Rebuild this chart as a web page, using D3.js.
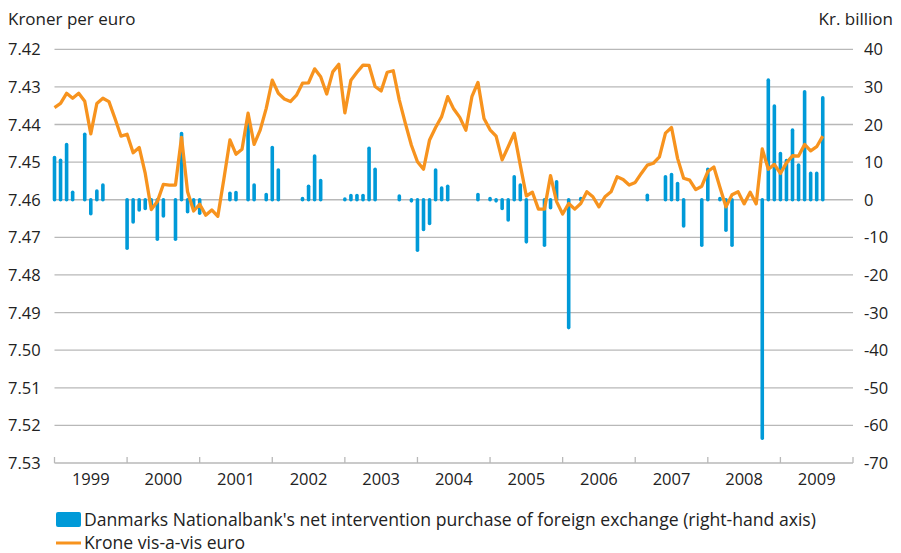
<!DOCTYPE html>
<html>
<head>
<meta charset="utf-8">
<script src="https://cdn.jsdelivr.net/npm/d3@7"></script>
<style>
  body { margin: 0; background: #fff; }
  text { font-family: "Open Sans", "Noto Sans", sans-serif; fill: #222; }
</style>
</head>
<body>
<div id="chart"></div>
<script>
// monthly series, Jan 1999 .. Aug 2009
var years = ["1999", "2000", "2001", "2002", "2003", "2004", "2005", "2006", "2007", "2008", "2009"];
var leftTicks = [7.42, 7.43, 7.44, 7.45, 7.46, 7.47, 7.48, 7.49, 7.50, 7.51, 7.52, 7.53];
var rightTicks = [40, 30, 20, 10, 0, -10, -20, -30, -40, -50, -60, -70];

// net intervention purchase, kr. billion (right axis)
var intervention = [
    11.2, 10.5, 14.7, 2.0, 0, 17.4, -3.7, 2.3, 3.9, 0, 0, 0,
    -12.9, -5.9, -2.7, -2.3, -1.5, -10.5, -4.3, 0, -10.5, 17.6, -3.2, -1.9,
    -3.6, 0, 0, 0, 0, 1.7, 1.9, 0, 20.0, 3.9, 0, 1.4,
    13.9, 7.9, 0, 0, 0, 0.3, 3.6, 11.6, 5.1, 0, 0, 0,
    0.2, 1.1, 1.1, 1.1, 13.7, 8.1, 0, 0, 0, 1.0, 0, -0.3,
    -13.4, -7.9, -6.3, 7.9, 3.1, 3.6, 0, 0, 0, 0, 1.4, 0,
    0.3, -0.3, -2.3, -5.4, 6.1, 3.9, -11.2, 0, 0, -12.1, -2.1, 4.8,
    0, -34.0, 0, 0.3, 0, 0, 0, 0, 0, 0, 0, 0,
    0, 0, 1.2, 0, 0, 6.1, 6.7, 4.3, -7.0, 0, 0, -12.1,
    8.1, 0, 0.3, -8.1, -12.1, 0, 0, 0, 0, -63.4, 31.8, 24.9,
    12.3, 10.4, 18.5, 9.2, 28.7, 7.0, 7.0, 27.1
];

// krone vis-a-vis euro (left axis)
var krone = [
    7.4355, 7.4344, 7.4317, 7.4330, 7.4317, 7.4338, 7.4425, 7.4344, 7.4330, 7.4339, 7.4384, 7.4431,
    7.4426, 7.4475, 7.4461, 7.4530, 7.4626, 7.4605, 7.4559, 7.4561, 7.4561, 7.4434, 7.4579, 7.4630,
    7.4612, 7.4641, 7.4627, 7.4644, 7.4545, 7.4441, 7.4479, 7.4466, 7.4370, 7.4453, 7.4415, 7.4357,
    7.4282, 7.4317, 7.4332, 7.4339, 7.4322, 7.4290, 7.4289, 7.4252, 7.4273, 7.4319, 7.4260, 7.4240,
    7.4369, 7.4282, 7.4261, 7.4242, 7.4243, 7.4299, 7.4311, 7.4261, 7.4257, 7.4335, 7.4397, 7.4455,
    7.4499, 7.4519, 7.4441, 7.4408, 7.4379, 7.4326, 7.4359, 7.4381, 7.4415, 7.4326, 7.4288, 7.4384,
    7.4414, 7.4431, 7.4494, 7.4459, 7.4423, 7.4508, 7.4590, 7.4580, 7.4625, 7.4625, 7.4536, 7.4605,
    7.4638, 7.4610, 7.4625, 7.4610, 7.4579, 7.4592, 7.4619, 7.4592, 7.4579, 7.4539, 7.4546, 7.4561,
    7.4554, 7.4530, 7.4508, 7.4503, 7.4486, 7.4423, 7.4408, 7.4490, 7.4543, 7.4548, 7.4573, 7.4564,
    7.4525, 7.4513, 7.4567, 7.4619, 7.4587, 7.4579, 7.4611, 7.4580, 7.4611, 7.4465, 7.4519, 7.4506,
    7.4530, 7.4502, 7.4483, 7.4484, 7.4453, 7.4470, 7.4459, 7.4431
];

var legendLabels = [
    "Danmarks Nationalbank's net intervention purchase of foreign exchange (right-hand axis)",
    "Krone vis-a-vis euro"
];

var drawChart = function() {

    var blue = "#009ad8",
        orange = "#f7931e",
        grid = "#b8b8b8";

    var width = 901,
        height = 553,
        plotLeft = 54.5,
        plotRight = 853,
        plotTop = 49.3,
        plotBottom = 463;

    var svg = d3.select('#chart')
        .append('svg')
        .attr('width', width)
        .attr('height', height);

    /* scales */
    var x = d3.scaleLinear()
        .domain([0, years.length * 12])
        .range([plotLeft, plotRight]);

    var yLeft = d3.scaleLinear()
        .domain([7.42, 7.53])
        .range([plotTop, plotBottom]);

    var yRight = d3.scaleLinear()
        .domain([40, -70])
        .range([plotTop, plotBottom]);

    /* gridlines */
    svg.append('g')
        .selectAll('line')
        .data(leftTicks)
        .enter().append('line')
        .attr('x1', plotLeft)
        .attr('x2', plotRight)
        .attr('y1', function(d) { return yLeft(d); })
        .attr('y2', function(d) { return yLeft(d); })
        .attr('stroke', grid)
        .attr('stroke-width', 1.3);

    // year boundary ticks on the bottom axis
    svg.append('g')
        .selectAll('line')
        .data(d3.range(years.length + 1))
        .enter().append('line')
        .attr('x1', function(d) { return x(d * 12); })
        .attr('x2', function(d) { return x(d * 12); })
        .attr('y1', plotBottom - 6)
        .attr('y2', plotBottom)
        .attr('stroke', grid)
        .attr('stroke-width', 1.3);

    /* axis labels */
    svg.append('g')
        .selectAll('text')
        .data(leftTicks)
        .enter().append('text')
        .attr('x', 8)
        .attr('y', function(d) { return yLeft(d) + 6; })
        .style('font-size', '16.5px')
        .text(function(d) { return d3.format('.2f')(d); });

    svg.append('g')
        .selectAll('text')
        .data(rightTicks)
        .enter().append('text')
        .attr('x', 864)
        .attr('y', function(d) { return yRight(d) + 6; })
        .style('font-size', '16.5px')
        .text(function(d) { return d; });

    svg.append('g')
        .selectAll('text')
        .data(years)
        .enter().append('text')
        .attr('x', function(d, i) { return x(i * 12 + 6); })
        .attr('y', 485)
        .attr('text-anchor', 'middle')
        .style('font-size', '16.5px')
        .text(function(d) { return d; });

    svg.append('text')
        .attr('x', 8)
        .attr('y', 25)
        .style('font-size', '17px')
        .text('Kroner per euro');

    svg.append('text')
        .attr('x', 893)
        .attr('y', 25)
        .attr('text-anchor', 'end')
        .style('font-size', '17px')
        .text('Kr. billion');

    /* bars */
    svg.append('g')
        .selectAll('line')
        .data(intervention.map(function(v, i) { return { i: i, v: v }; })
            .filter(function(d) { return d.v !== 0; }))
        .enter().append('line')
        .attr('x1', function(d) { return x(d.i); })
        .attr('x2', function(d) { return x(d.i); })
        .attr('y1', yRight(0))
        .attr('y2', function(d) { return yRight(d.v); })
        .attr('stroke', blue)
        .attr('stroke-width', 3.6)
        .attr('stroke-linecap', 'round');

    /* krone line */
    var line = d3.line()
        .x(function(d, i) { return x(i); })
        .y(function(d) { return yLeft(d); });

    svg.append('path')
        .datum(krone)
        .attr('d', line)
        .attr('fill', 'none')
        .attr('stroke', orange)
        .attr('stroke-width', 3.3)
        .attr('stroke-linejoin', 'round');

    /* legend */
    var legend = svg.append('g');

    legend.append('rect')
        .attr('x', 56)
        .attr('y', 512)
        .attr('width', 25)
        .attr('height', 15)
        .attr('rx', 2)
        .attr('fill', blue);

    legend.append('line')
        .attr('x1', 56)
        .attr('x2', 81)
        .attr('y1', 543)
        .attr('y2', 543)
        .attr('stroke', orange)
        .attr('stroke-width', 3);

    legend.selectAll('text')
        .data(legendLabels)
        .enter().append('text')
        .attr('x', 84)
        .attr('y', function(d, i) { return 526 + i * 23; })
        .style('font-size', '17.6px')
        .text(function(d) { return d; });
}

drawChart();
</script>
</body>
</html>
